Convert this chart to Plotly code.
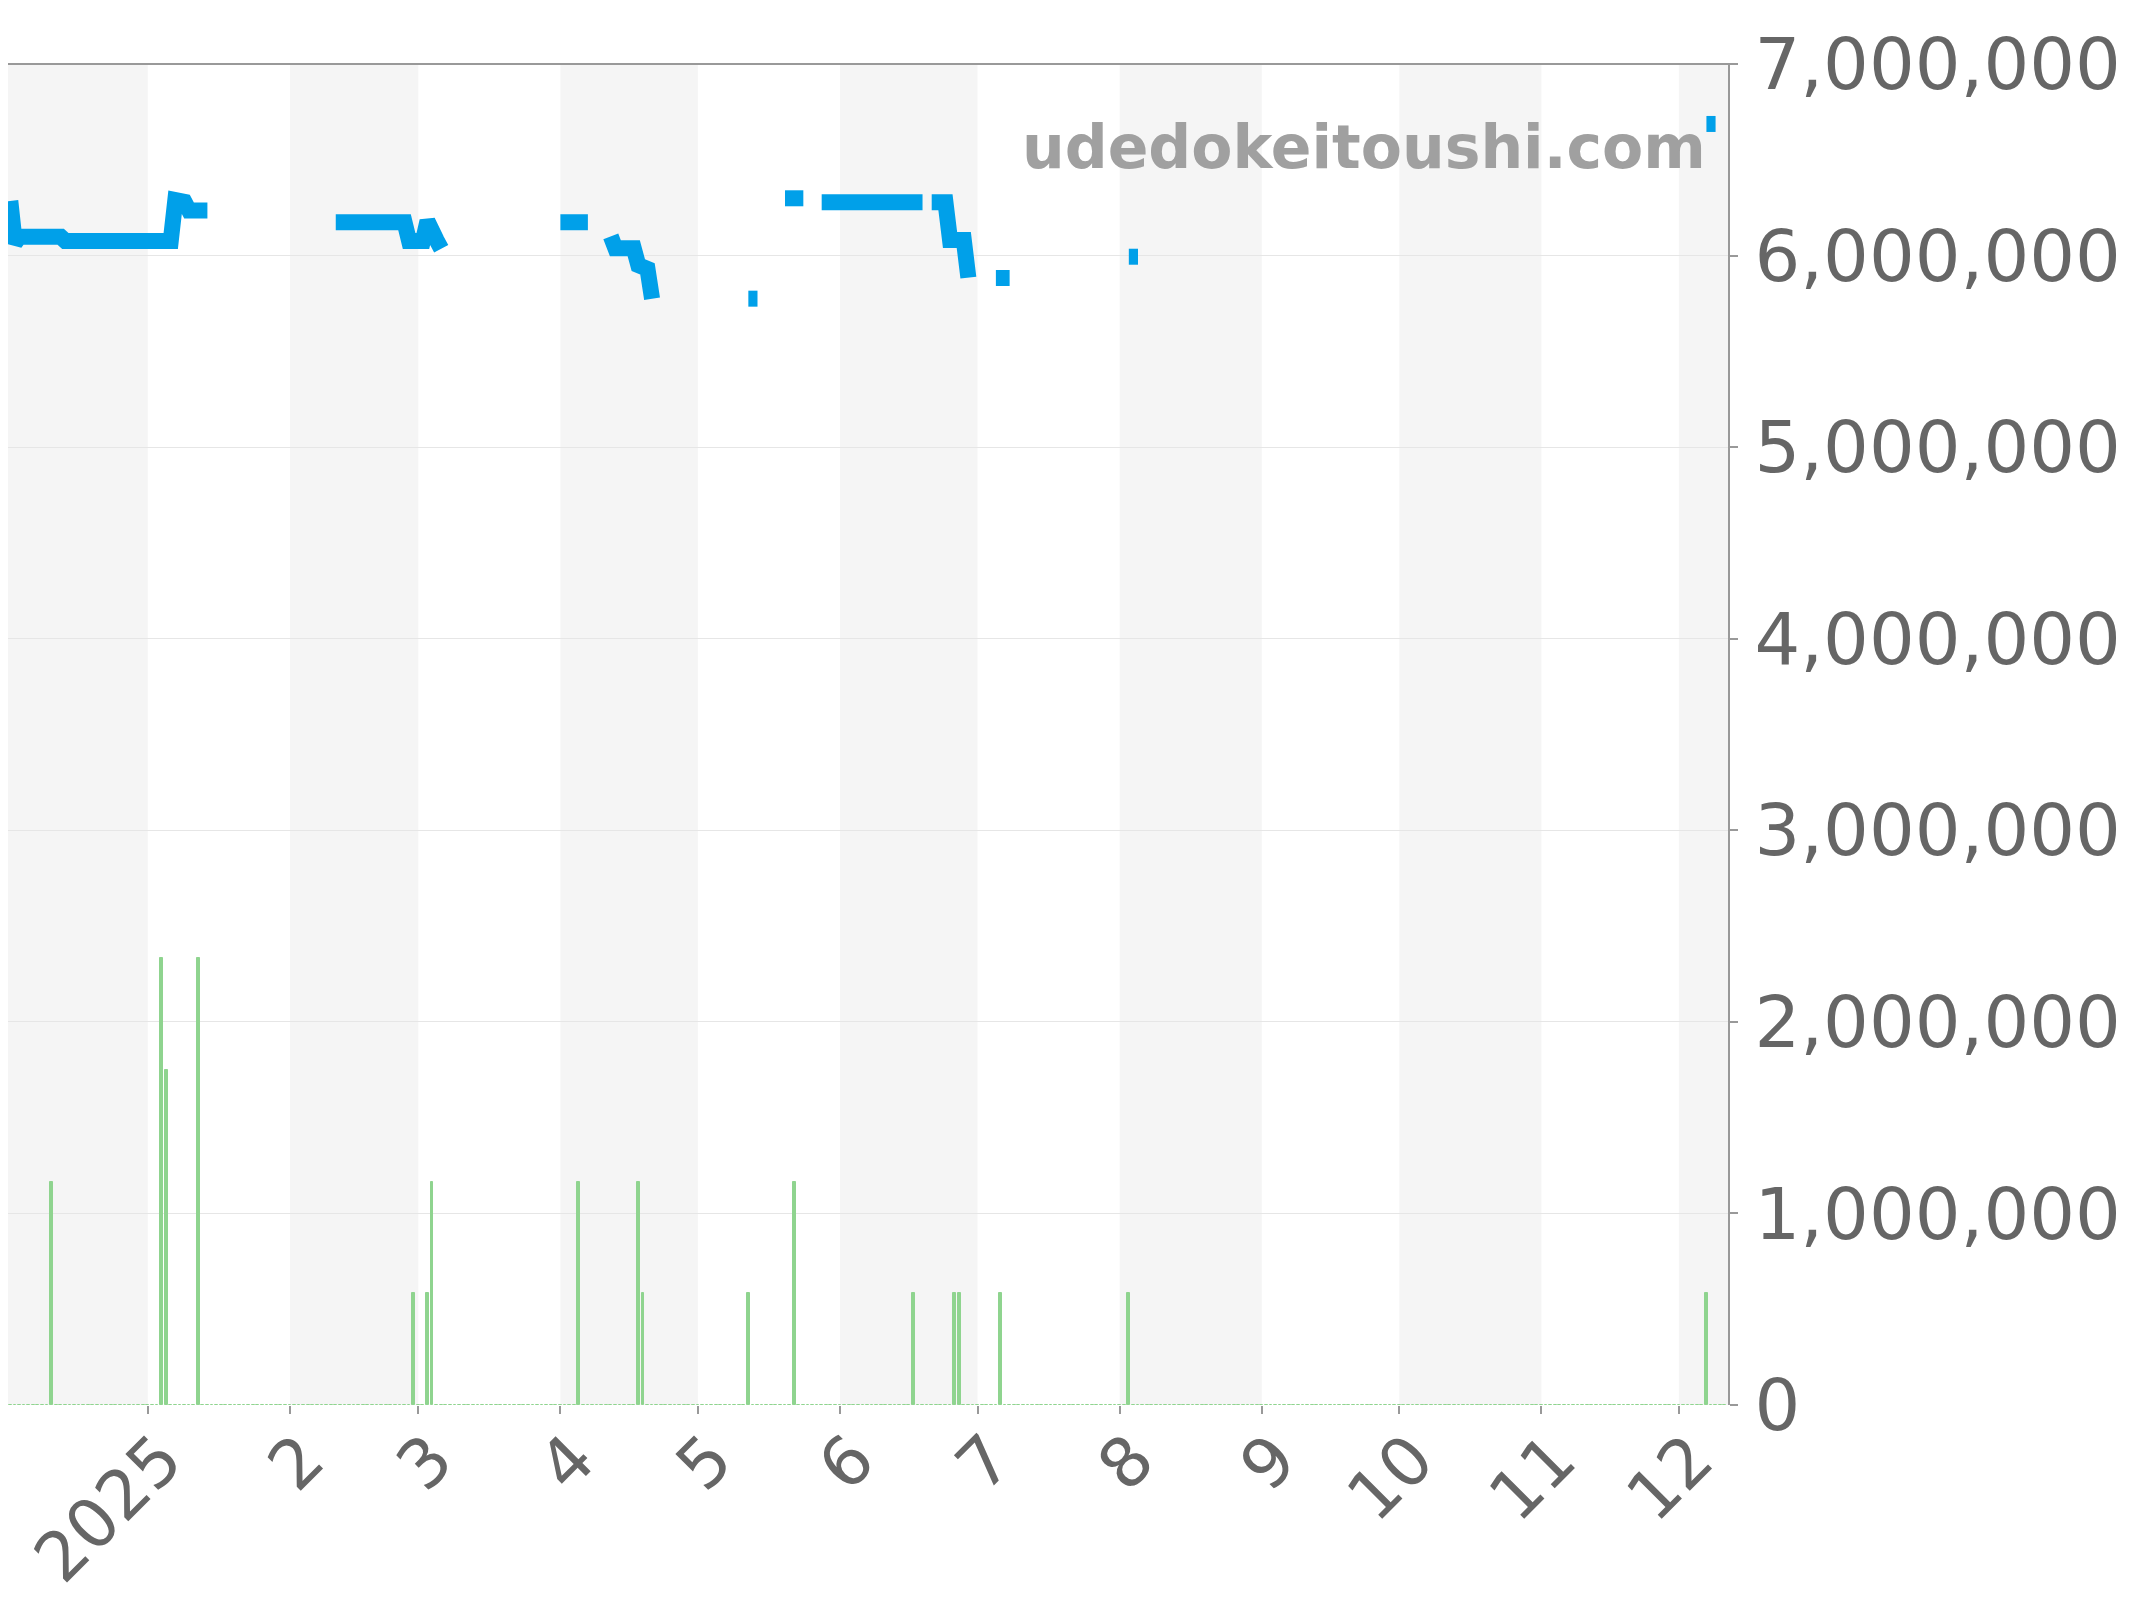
import pandas as pd
import plotly.graph_objects as go

# ---------------- data ----------------
# price segments: (start date, daily values)
seg_starts = ["2024-12-02", "2025-02-11", "2025-04-01", "2025-04-12", "2025-05-12",
              "2025-05-20", "2025-05-28", "2025-06-21", "2025-07-05", "2025-08-03",
              "2025-12-07"]
seg_values = [
    [6285000, 6065000, 6098000,
     6098000, 6098000, 6098000, 6098000, 6098000, 6098000, 6098000, 6098000, 6098000,
     6076000, 6076000, 6076000, 6076000, 6076000, 6076000, 6076000, 6076000,
     6076000, 6076000, 6076000, 6076000, 6076000, 6076000, 6076000, 6076000,
     6076000, 6076000, 6076000, 6076000, 6076000, 6076000, 6076000, 6076000,
     6290000, 6280000, 6280000, 6235000, 6235000, 6235000, 6235000, 6235000],
    [6174000, 6174000, 6174000, 6174000, 6174000, 6174000, 6174000, 6174000,
     6174000, 6174000, 6174000, 6174000, 6174000, 6174000, 6174000, 6174000,
     6076000, 6076000, 6076000, 6076000, 6180000, 6095000, 6080000, 6035000],
    [6174000, 6174000, 6174000, 6174000, 6174000, 6174000, 6174000],
    [6100000, 6038000, 6038000, 6038000, 6038000, 6038000, 5950000, 5940000, 5930000, 5775000],
    [5775000, 5775000, 5775000],
    [6299000, 6299000, 6299000, 6299000, 6299000],
    [6278000, 6278000, 6278000, 6278000, 6278000, 6278000, 6278000, 6278000,
     6278000, 6278000, 6278000, 6278000, 6278000, 6278000, 6278000, 6278000,
     6278000, 6278000, 6278000, 6278000, 6278000, 6278000, 6278000],
    [6278000, 6278000, 6278000, 6278000, 6081000, 6081000, 6081000, 6081000, 5885000],
    [5883000, 5883000, 5883000, 5883000],
    [5994000, 5994000, 5994000],
    [6687000, 6687000, 6687000],
]

# volume (number of listings per day)
vol_dates = ["2024-12-11", "2025-01-04", "2025-01-05", "2025-01-12", "2025-02-28",
             "2025-03-03", "2025-03-04", "2025-04-05", "2025-04-18", "2025-04-19",
             "2025-05-12", "2025-05-22", "2025-06-17", "2025-06-26", "2025-06-27",
             "2025-07-06", "2025-08-03", "2025-12-07"]
vol_counts = [2, 4, 3, 4, 1, 1, 2, 2, 2, 1, 1, 2, 1, 1, 1, 1, 1, 1]

tick_dates = ["2025-01-01", "2025-02-01", "2025-03-01", "2025-04-01", "2025-05-01",
              "2025-06-01", "2025-07-01", "2025-08-01", "2025-09-01", "2025-10-01",
              "2025-11-01", "2025-12-01"]
tick_text = ["2025", "2", "3", "4", "5", "6", "7", "8", "9", "10", "11", "12"]

shaded_months = [("2024-12-01", "2025-01-01"), ("2025-02-01", "2025-03-01"),
                 ("2025-04-01", "2025-05-01"), ("2025-06-01", "2025-07-01"),
                 ("2025-08-01", "2025-09-01"), ("2025-10-01", "2025-11-01"),
                 ("2025-12-01", "2026-01-01")]

x_range = ["2024-12-01 12:00", "2025-12-11 17:00"]

# ---------------- build ----------------
px, py = [], []
for start, vals in zip(seg_starts, seg_values):
    dates = pd.date_range(start, periods=len(vals), freq="D")
    px.extend(list(dates))
    py.extend(vals)
    px.append(dates[-1] + pd.Timedelta(hours=12))
    py.append(None)

all_days = pd.date_range("2024-12-01", "2025-12-11", freq="D")
vol = pd.Series(vol_counts, index=pd.to_datetime(vol_dates)).reindex(all_days, fill_value=0)

GREEN = "#8fd48f"
BLUE = "#00a0e9"
GREY = "#666666"
FONT = "DejaVu Sans"

fig = go.Figure()
fig.add_trace(go.Bar(
    x=vol.index, y=vol.values, yaxis="y2",
    width=0.6 * 86400000,
    marker=dict(color=GREEN, line=dict(color=GREEN, width=1)),
    showlegend=False, hoverinfo="skip",
))
fig.add_trace(go.Scatter(
    x=px, y=py, mode="lines", connectgaps=False,
    line=dict(color=BLUE, width=16),
    showlegend=False,
))

shapes = []
for a, b in shaded_months:
    shapes.append(dict(type="rect", xref="x", yref="paper", x0=a, x1=b, y0=0, y1=1,
                       fillcolor="#f5f5f5", line=dict(width=0), layer="below"))
shapes.append(dict(type="line", xref="paper", yref="paper", x0=0, x1=1.005, y0=1, y1=1,
                   line=dict(color="#999999", width=2)))

fig.update_layout(
    width=2144, height=1600,
    margin=dict(l=0, r=424, t=56, b=203),
    plot_bgcolor="white", paper_bgcolor="white",
    font=dict(family=FONT, color=GREY),
    shapes=shapes,
    bargap=0,
    xaxis=dict(
        type="date", range=x_range, automargin=False,
        tickvals=tick_dates, ticktext=tick_text, tickangle=-45,
        ticklabeloverflow="allow", ticklabelstandoff=-22, ticklabelshift=14,
        tickfont=dict(size=68, color=GREY, family=FONT),
        ticks="outside", ticklen=8, tickcolor="#999999", tickwidth=2,
        showgrid=False, showline=False, zeroline=False,
    ),
    yaxis=dict(
        side="right", range=[0, 7000000], dtick=1000000, tickformat=",d",
        automargin=False, ticklabelstandoff=2,
        tickfont=dict(size=72, color=GREY, family=FONT),
        ticks="outside", ticklen=8, tickcolor="#999999", tickwidth=2,
        showgrid=True, gridcolor="#e6e6e6", gridwidth=1,
        showline=True, linecolor="#999999", linewidth=2, zeroline=False,
    ),
    yaxis2=dict(overlaying="y", range=[0, 12], visible=False, automargin=False),
    annotations=[dict(
        text="<b>udedokeitoushi.com</b>", xref="paper", yref="paper",
        x=0.9885, y=0.938, xanchor="right", yanchor="middle", showarrow=False,
        font=dict(family=FONT, size=60, color="#a0a0a0"),
    )],
)

fig.write_html("out.html")
